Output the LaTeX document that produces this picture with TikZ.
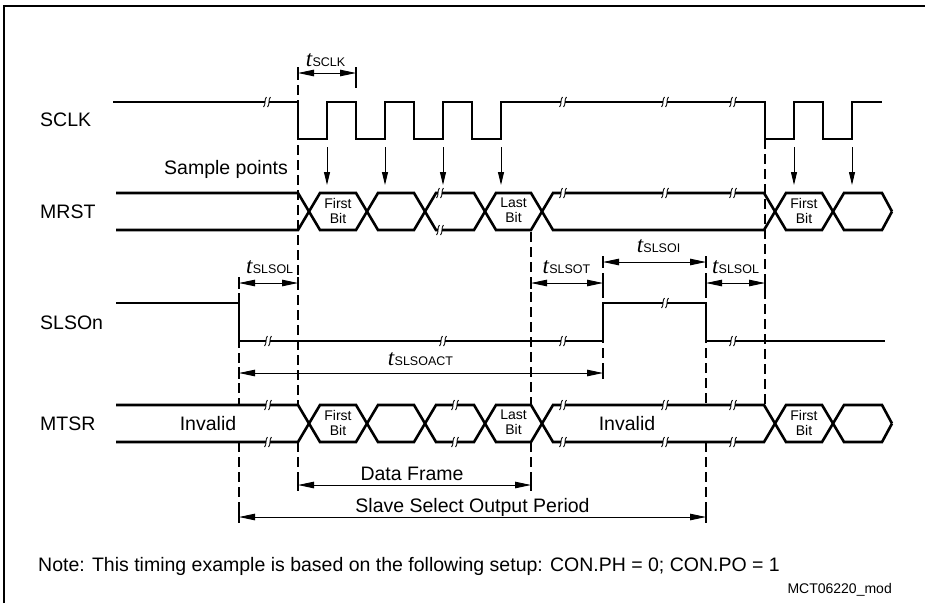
\documentclass[tikz,border=0pt]{standalone}
\usepackage{fontspec}
\setmainfont{Liberation Sans}
\newfontfamily\tserif{Liberation Serif}
\usetikzlibrary{arrows.meta}
\newcommand\tsub[1]{{\tserif\itshape\fontsize{23}{23}\selectfont t}\kern0.3pt{\fontsize{12.5}{12.5}\selectfont #1}}
\begin{document}
\begin{tikzpicture}[x=1pt,y=-1pt,
  sig/.style={line width=2.6pt},
  guide/.style={line width=1.5pt, dash pattern=on 10pt off 5pt},
  dim/.style={line width=0.9pt, {Triangle[length=16pt,width=6.5pt]}-{Triangle[length=16pt,width=6.5pt]}},
  samp/.style={line width=0.9pt, -{Triangle[length=13pt,width=6pt]}},
  tickmark/.style={line width=1.5pt},
  lbl/.style={font=\fontsize{19.5}{23}\selectfont, inner sep=0pt},
  bit/.style={font=\fontsize{14}{15}\selectfont, align=center, inner sep=0pt},
  tlab/.style={inner sep=0pt, anchor=base},
  brk/.pic={
    \fill[white] (-2.2,-2) rectangle (2.2,2);
    \draw[line width=0.9pt] (-0.5,-5) .. controls (-3,-3) and (-1,3) .. (-3.5,5);
    \draw[line width=0.9pt] (3.5,-5) .. controls (1,-3) and (3,3) .. (0.5,5);
  }]
\useasboundingbox (0,0) rectangle (925,603);
% frame
\draw[line width=1.7pt] (4,603) -- (4,6) -- (925,6);

% guide lines
\foreach \n/\x/\ya/\yb in {a/298/70/405, b/298/442/490, c/239/278/405, d/239/442/523,
  e/531/232/405, f/531/442/490, g/603/258/378, h/706/258/405, i/706/442/523, j/765/139/405}{
  \coordinate (g\n1) at (\x,\ya); \coordinate (g\n2) at (\x,\yb);
  \draw[guide] (g\n1) -- (g\n2);
}
\coordinate (gk1) at (356,70); \coordinate (gk2) at (356,88);
\draw[tickmark] (gk1) -- (gk2);

% SCLK
\draw[sig] (113,102) -- (298,102) -- (298,139) -- (327,139) -- (327,102) -- (356,102) -- (356,139)
  -- (385,139) -- (385,102) -- (414,102) -- (414,139) -- (443,139) -- (443,102) -- (472,102)
  -- (472,139) -- (501,139) -- (501,102) -- (765,102) -- (765,139) -- (794,139) -- (794,102)
  -- (823,102) -- (823,139) -- (852,139) -- (852,102) -- (882,102);
% MRST
\draw[sig] (116,193) -- (298,193) -- (320,230) -- (356,230) -- (378,193) -- (414,193) -- (436,230)
  -- (474,230) -- (496,193) -- (531,193) -- (553,230) -- (764,230) -- (786,193) -- (822,193)
  -- (844,230) -- (882,230) -- (892,211.5);
\draw[sig] (116,230) -- (298,230) -- (320,193) -- (356,193) -- (378,230) -- (414,230) -- (436,193)
  -- (474,193) -- (496,230) -- (531,230) -- (553,193) -- (764,193) -- (786,230) -- (822,230)
  -- (844,193) -- (882,193) -- (892,211.5);
% SLSOn
\draw[sig] (116,303) -- (239,303) -- (239,341) -- (603,341) -- (603,303) -- (706,303) -- (706,341) -- (885,341);
% MTSR
\draw[sig] (116,405) -- (298,405) -- (320,442) -- (356,442) -- (378,405) -- (414,405) -- (436,442)
  -- (474,442) -- (496,405) -- (531,405) -- (553,442) -- (764,442) -- (786,405) -- (822,405)
  -- (844,442) -- (882,442) -- (892,423.5);
\draw[sig] (116,442) -- (298,442) -- (320,405) -- (356,405) -- (378,442) -- (414,442) -- (436,405)
  -- (474,405) -- (496,442) -- (531,442) -- (553,405) -- (764,405) -- (786,442) -- (822,442)
  -- (844,405) -- (882,405) -- (892,423.5);

% break marks
\foreach \x/\y in {267/102, 563/102, 665/102, 733/102,
  440/193, 440/230, 563/193, 665/193, 733/193,
  268/341, 443/341, 563/341, 665/303, 733/341,
  268/405, 268/442, 455/405, 455/442, 563/405, 563/442, 665/405, 665/442, 733/405, 733/442}
  \pic at (\x,\y) {brk};

% sample points arrows
\foreach \i/\x in {1/327, 2/385, 3/443, 4/501, 5/794, 6/852}{
  \coordinate (s\i a) at (\x,147); \coordinate (s\i b) at (\x,185);
  \draw[samp] (s\i a) -- (s\i b);
}

% dimension arrows
\foreach \n/\xa/\xb/\y in {A/298/356/73, B/239/298/283, C/531/603/283, D/603/706/262,
  E/706/765/283, F/239/603/373, G/298/531/485, H/239/706/517}{
  \coordinate (d\n1) at (\xa,\y); \coordinate (d\n2) at (\xb,\y);
  \draw[dim] (d\n1) -- (d\n2);
  \draw[tickmark] (\xa,\y-6) -- (\xa,\y+6);
  \draw[tickmark] (\xb,\y-6) -- (\xb,\y+6);
}

% labels
\node[lbl, anchor=base west] (lsclk) at (40,126) {SCLK};
\node[lbl, anchor=base west] (lmrst) at (40,218.5) {MRST};
\node[lbl, anchor=base west] (lslso) at (40,329) {SLSOn};
\node[lbl, anchor=base west] (lmtsr) at (40,430) {MTSR};
\node[lbl, anchor=base east] (lsamp) at (288,174) {Sample points};
\node[lbl, anchor=base] (inv1) at (208,430) {Invalid};
\node[lbl, anchor=base] (inv2) at (627,430) {Invalid};
\node[lbl, anchor=base] (ldf) at (412,480) {Data Frame};
\node[lbl, anchor=base] (lssop) at (472.5,512) {Slave Select Output Period};
\node[lbl, anchor=base west] (note) at (38,571) {Note: This timing example is based on the following setup: CON.PH = 0; CON.PO = 1};
\node[font=\fontsize{14}{14}\selectfont, inner sep=0pt, anchor=base east] (mct) at (892,593) {MCT06220\_mod};

\node[bit] (fb1) at (338,210.5) {First\\Bit};
\node[bit] (lb1) at (513.5,210.5) {Last\\Bit};
\node[bit] (fb2) at (804,210.5) {First\\Bit};
\node[bit] (fb3) at (338,422.5) {First\\Bit};
\node[bit] (lb2) at (513.5,422.5) {Last\\Bit};
\node[bit] (fb4) at (804,422.5) {First\\Bit};

\node[tlab] (tsclk) at (325.5,66) {\tsub{SCLK}};
\node[tlab] (tsl1) at (269.7,273) {\tsub{SLSOL}};
\node[tlab] (tslt) at (566.5,273) {\tsub{SLSOT}};
\node[tlab] (tsli) at (658.5,252) {\tsub{SLSOI}};
\node[tlab] (tsl2) at (735.5,273) {\tsub{SLSOL}};
\node[tlab] (tsla) at (420.5,365) {\tsub{SLSOACT}};
\end{tikzpicture}
\end{document}
